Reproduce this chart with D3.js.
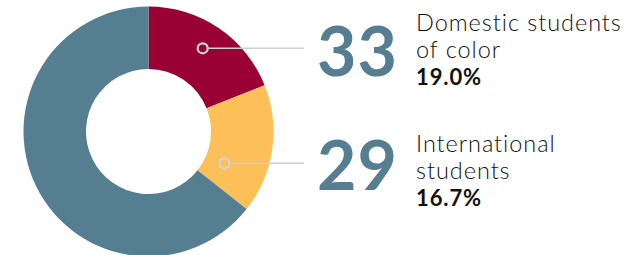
<!DOCTYPE html>
<html>
<head>
<meta charset="utf-8">
<script src="https://cdn.jsdelivr.net/npm/d3@7"></script>
<style>
  html, body { margin: 0; padding: 0; background: #fff; }
  svg { display: block; }
</style>
</head>
<body>
<svg id="chart" width="643" height="255"></svg>
<script>
// ---- data ----
const categories = ["Domestic students of color", "International students", "Other students"];
const values = [33, 29, 112];
const labelLines = [["Domestic students", "of color"], ["International", "students"]];
const sliceColors = ["#990033", "#fdbf57", "#557f91"];

// ---- layout ----
const W = 643, H = 255;
const cx = 148.5, cy = 131.5, R = 125, r = 62.5;
const calloutY = [48.3, 163.3];          // y of leader lines
const markerX = [202.7, 224.3];           // x of marker rings
const lineEndX = 304;
const numberBaseline = [75.5, 190.3];
const textTop = [31, 151.7];
const textX = 416, numberRight = 398;

const svg = d3.select("#chart");
const total = d3.sum(values);

const pie = d3.pie().sort(null).value(d => d)(values);
const arc = d3.arc().innerRadius(r).outerRadius(R);

const g = svg.append("g").attr("transform", `translate(${cx},${cy})`);
g.selectAll("path").data(pie).join("path")
  .attr("d", arc)
  .attr("fill", (d, i) => sliceColors[i]);

const fmt = d3.format(".1f");
[0, 1].forEach(i => {
  // leader line + marker
  svg.append("line")
    .attr("x1", markerX[i] + 5).attr("x2", lineEndX)
    .attr("y1", calloutY[i]).attr("y2", calloutY[i])
    .attr("stroke", "#cfcfcf").attr("stroke-width", 1.5);
  svg.append("circle")
    .attr("cx", markerX[i]).attr("cy", calloutY[i]).attr("r", 5)
    .attr("fill", "none").attr("stroke", "#d4d4d4").attr("stroke-width", 2.2);

  svg.append("text")
    .attr("x", numberRight).attr("y", numberBaseline[i])
    .attr("text-anchor", "end")
    .attr("font-family", "Lato, sans-serif").attr("font-weight", 700)
    .attr("font-size", 68).attr("fill", "#557f91")
    .attr("letter-spacing", 1)
    .text(values[i]);

  const t = svg.append("text")
    .attr("font-family", "Lato, sans-serif").attr("fill", "#111");
  labelLines[i].forEach((ln, j) => {
    t.append("tspan").attr("x", textX).attr("y", textTop[i] + j * 27.3)
      .attr("font-size", 23.5).attr("font-weight", 300)
      .attr("letter-spacing", 0.95).text(ln);
  });
  t.append("tspan").attr("x", textX).attr("y", textTop[i] + 2 * 27.3 - 0.5)
    .attr("font-size", 22).attr("font-weight", 700)
    .attr("letter-spacing", 0.9)
    .text(fmt(values[i] / total * 100) + "%");
});
</script>
</body>
</html>
